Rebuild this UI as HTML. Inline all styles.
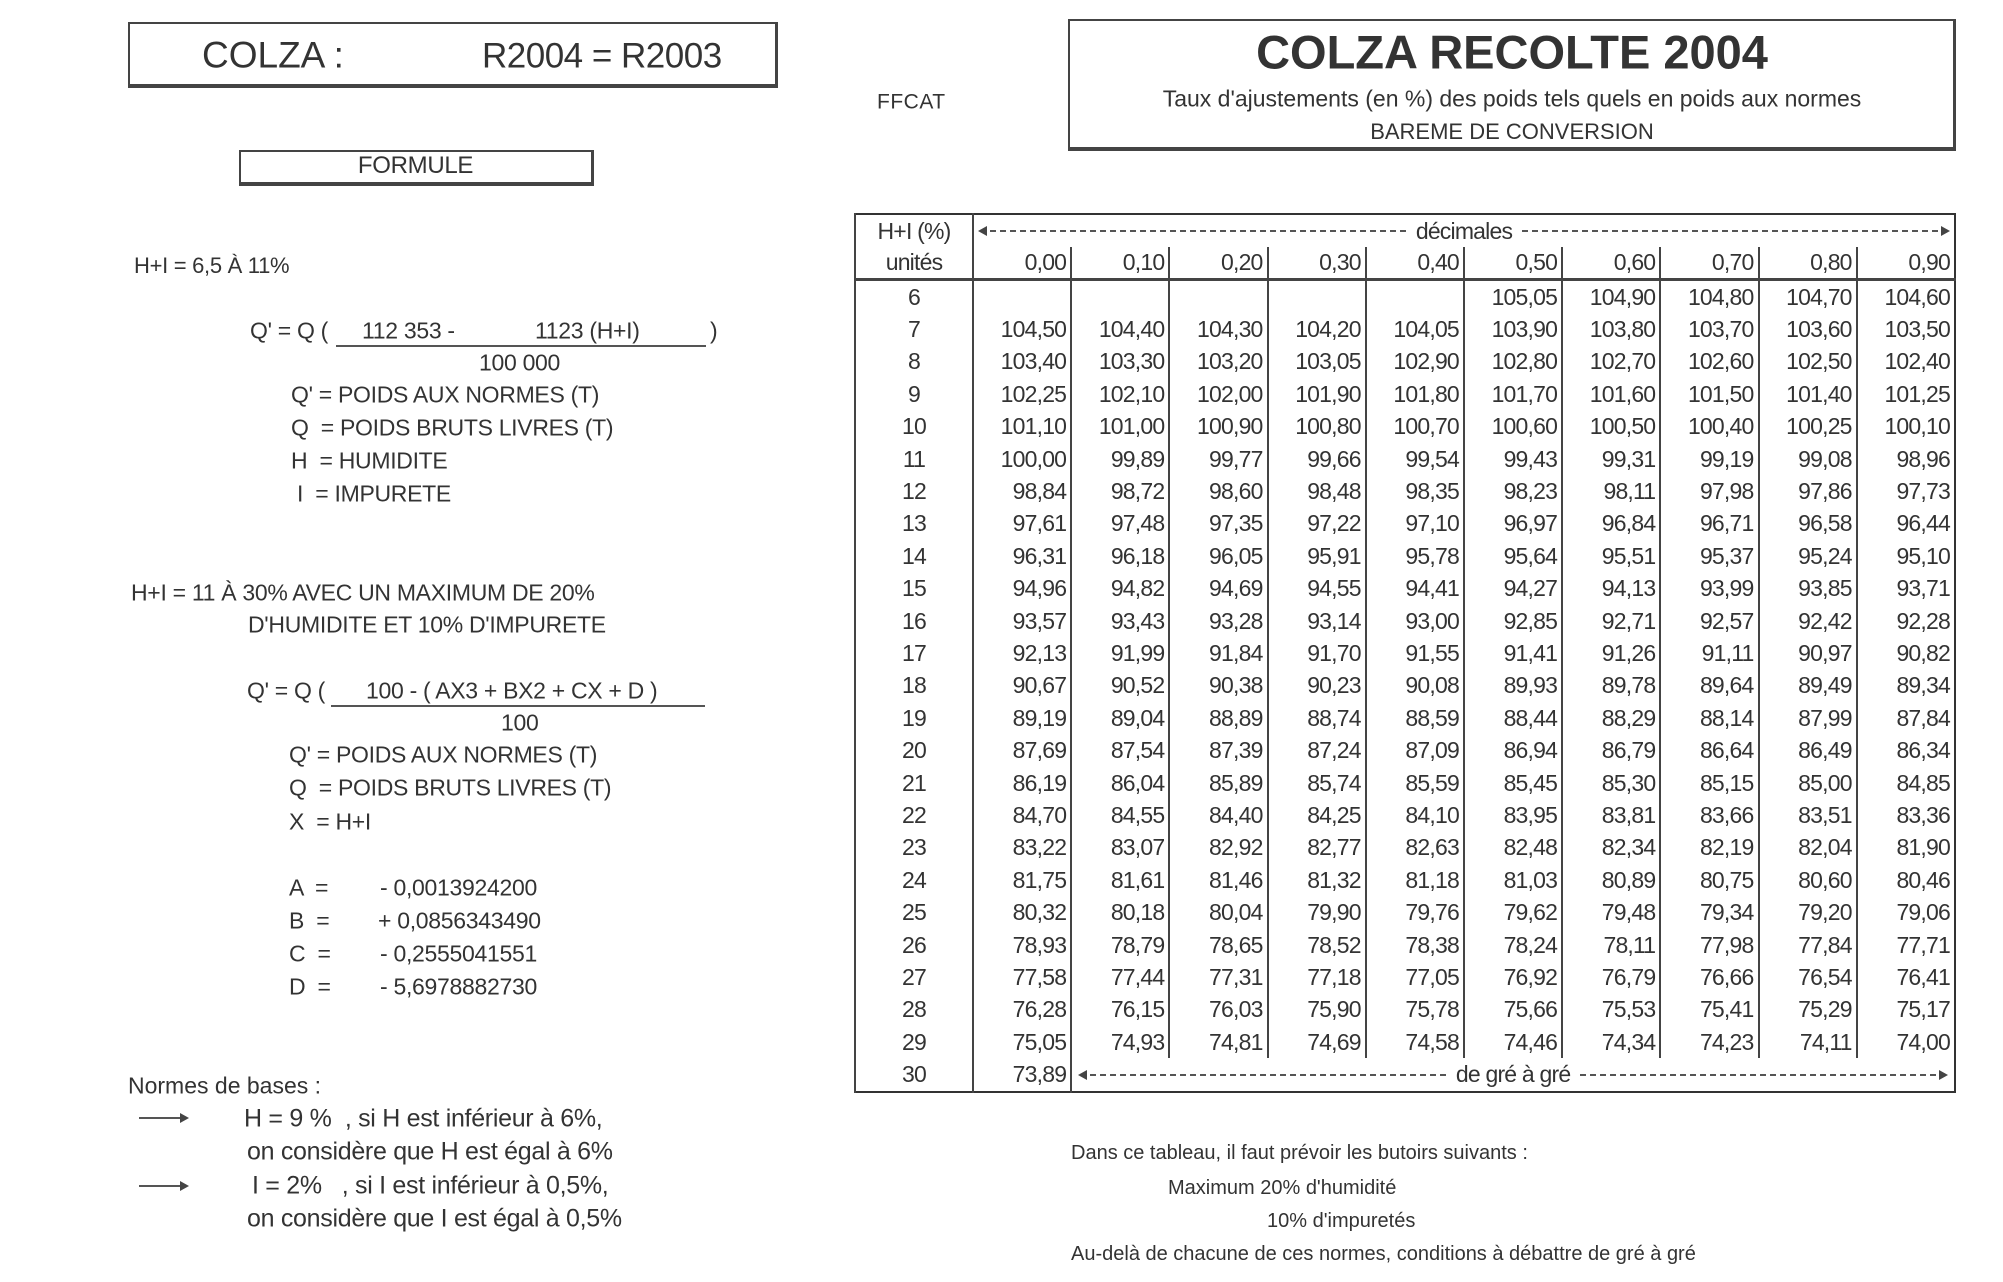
<!DOCTYPE html>
<html><head><meta charset="utf-8">
<style>
html,body{margin:0;padding:0;background:#fff;}
body{width:2003px;height:1282px;position:relative;overflow:hidden;font-family:"Liberation Sans",sans-serif;color:#333;}
.t{position:absolute;white-space:nowrap;font-size:23px;line-height:1;letter-spacing:-0.3px;transform:translateY(-50%);}
.box{position:absolute;border:2px solid #444;border-right-width:3px;border-bottom-width:4px;}
table{position:absolute;left:854px;top:213px;width:1102px;border-collapse:collapse;table-layout:fixed;border:2px solid #333;}
td{font-size:23px;letter-spacing:-0.8px;height:32.4px;padding:0 4px 0 0;text-align:right;border-left:2px solid #444;line-height:1;color:#333;}
td:first-child{text-align:center;padding:0;}
tr.h1 td{height:32px;}
tr.h2 td{border-bottom:3px solid #444;height:31px;}
tr.h1 td.dec{text-align:center;padding:0 6px;}
.dash{display:flex;align-items:center;gap:10px;}
.dash .l{flex:1;border-top:2px dashed #555;height:0;position:relative;}
.dash .l.a:before{content:"";position:absolute;left:-2px;top:-6px;border:5px solid transparent;border-right:9px solid #444;border-left:0;}
.dash .l.b:after{content:"";position:absolute;right:-2px;top:-6px;border:5px solid transparent;border-left:9px solid #444;border-right:0;}
.arrow{position:absolute;height:0;border-top:2px solid #555;width:48px;}
.arrow:after{content:"";position:absolute;right:-2px;top:-6px;border:5px solid transparent;border-left:9px solid #444;border-right:0;}
</style></head><body>

<div class="box" style="left:128px;top:22px;width:645px;height:60px;"></div>
<div class="t" style="left:202px;top:55px;font-size:37px;letter-spacing:0;">COLZA :</div>
<div class="t" style="left:482px;top:56px;font-size:35px;letter-spacing:-0.5px;">R2004 = R2003</div>

<div class="t" style="left:877px;top:102px;font-size:21px;letter-spacing:0.5px;">FFCAT</div>

<div class="box" style="left:1068px;top:19px;width:883px;height:126px;"></div>
<div class="t" style="left:1068px;width:888px;text-align:center;top:52px;font-size:47px;font-weight:bold;letter-spacing:0;">COLZA RECOLTE 2004</div>
<div class="t" style="left:1068px;width:888px;text-align:center;top:99px;font-size:23px;letter-spacing:0;">Taux d'ajustements (en %) des poids tels quels en poids aux normes</div>
<div class="t" style="left:1068px;width:888px;text-align:center;top:132px;font-size:22px;letter-spacing:0;">BAREME DE CONVERSION</div>

<div class="box" style="left:239px;top:150px;width:350px;height:30px;"></div>
<div class="t" style="left:239px;width:353px;text-align:center;top:166px;font-size:24px;">FORMULE</div>

<div class="t" style="left:134px;top:266px;font-size:22px;">H+I = 6,5 À 11%</div>
<div class="t" style="left:250px;top:331px;">Q' = Q (</div>
<div class="t" style="left:362px;top:331px;">112 353 -</div>
<div class="t" style="left:535px;top:331px;">1123 (H+I)</div>
<div class="t" style="left:710px;top:331px;">)</div>
<div style="position:absolute;left:336px;top:345px;width:370px;border-top:2px solid #555;"></div>
<div class="t" style="left:479px;top:363px;">100 000</div>
<div class="t" style="left:291px;top:395px;">Q' = POIDS AUX NORMES (T)</div>
<div class="t" style="left:291px;top:428px;">Q &nbsp;= POIDS BRUTS LIVRES (T)</div>
<div class="t" style="left:291px;top:461px;">H &nbsp;= HUMIDITE</div>
<div class="t" style="left:297px;top:494px;">I &nbsp;= IMPURETE</div>

<div class="t" style="left:131px;top:593px;">H+I = 11 À 30% AVEC UN MAXIMUM DE 20%</div>
<div class="t" style="left:248px;top:625px;">D'HUMIDITE ET 10% D'IMPURETE</div>

<div class="t" style="left:247px;top:691px;">Q' = Q (</div>
<div class="t" style="left:366px;top:691px;">100 - ( AX3 + BX2 + CX + D )</div>
<div style="position:absolute;left:331px;top:705px;width:374px;border-top:2px solid #555;"></div>
<div class="t" style="left:501px;top:723px;">100</div>
<div class="t" style="left:289px;top:755px;">Q' = POIDS AUX NORMES (T)</div>
<div class="t" style="left:289px;top:788px;">Q &nbsp;= POIDS BRUTS LIVRES (T)</div>
<div class="t" style="left:289px;top:822px;">X &nbsp;= H+I</div>
<div class="t" style="left:289px;top:888px;">A &nbsp;=</div>
<div class="t" style="left:380px;top:888px;">- 0,0013924200</div>
<div class="t" style="left:289px;top:921px;">B &nbsp;=</div>
<div class="t" style="left:378px;top:921px;">+ 0,0856343490</div>
<div class="t" style="left:289px;top:954px;">C &nbsp;=</div>
<div class="t" style="left:380px;top:954px;">- 0,2555041551</div>
<div class="t" style="left:289px;top:987px;">D &nbsp;=</div>
<div class="t" style="left:380px;top:987px;">- 5,6978882730</div>

<div class="t" style="left:128px;top:1086px;font-size:23px;letter-spacing:0;">Normes de bases :</div>
<div class="arrow" style="left:139px;top:1117px;"></div>
<div class="t" style="left:244px;top:1119px;font-size:25px;">H = 9 % &nbsp;, si H est inférieur à 6%,</div>
<div class="t" style="left:247px;top:1152px;font-size:25px;">on considère que H est égal à 6%</div>
<div class="arrow" style="left:139px;top:1185px;"></div>
<div class="t" style="left:252px;top:1186px;font-size:25px;">I = 2% &nbsp;&nbsp;, si I est inférieur à 0,5%,</div>
<div class="t" style="left:247px;top:1219px;font-size:25px;">on considère que I est égal à 0,5%</div>

<div class="t" style="left:1071px;top:1153px;font-size:20px;letter-spacing:0;">Dans ce tableau, il faut prévoir les butoirs suivants :</div>
<div class="t" style="left:1168px;top:1188px;font-size:20px;letter-spacing:0;">Maximum 20% d'humidité</div>
<div class="t" style="left:1267px;top:1221px;font-size:20px;letter-spacing:0;">10% d'impuretés</div>
<div class="t" style="left:1071px;top:1254px;font-size:20px;letter-spacing:0;">Au-delà de chacune de ces normes, conditions à débattre de gré à gré</div>

<table>
<colgroup><col style="width:118px"><col span="10"></colgroup>
<tr class="h1"><td>H+I (%)</td><td colspan="10" class="dec"><div class="dash"><span class="l a"></span><span>décimales</span><span class="l b"></span></div></td></tr>
<tr class="h2"><td>unités</td><td>0,00</td><td>0,10</td><td>0,20</td><td>0,30</td><td>0,40</td><td>0,50</td><td>0,60</td><td>0,70</td><td>0,80</td><td>0,90</td></tr>
<tr><td>6</td><td></td><td></td><td></td><td></td><td></td><td>105,05</td><td>104,90</td><td>104,80</td><td>104,70</td><td>104,60</td></tr>
<tr><td>7</td><td>104,50</td><td>104,40</td><td>104,30</td><td>104,20</td><td>104,05</td><td>103,90</td><td>103,80</td><td>103,70</td><td>103,60</td><td>103,50</td></tr>
<tr><td>8</td><td>103,40</td><td>103,30</td><td>103,20</td><td>103,05</td><td>102,90</td><td>102,80</td><td>102,70</td><td>102,60</td><td>102,50</td><td>102,40</td></tr>
<tr><td>9</td><td>102,25</td><td>102,10</td><td>102,00</td><td>101,90</td><td>101,80</td><td>101,70</td><td>101,60</td><td>101,50</td><td>101,40</td><td>101,25</td></tr>
<tr><td>10</td><td>101,10</td><td>101,00</td><td>100,90</td><td>100,80</td><td>100,70</td><td>100,60</td><td>100,50</td><td>100,40</td><td>100,25</td><td>100,10</td></tr>
<tr><td>11</td><td>100,00</td><td>99,89</td><td>99,77</td><td>99,66</td><td>99,54</td><td>99,43</td><td>99,31</td><td>99,19</td><td>99,08</td><td>98,96</td></tr>
<tr><td>12</td><td>98,84</td><td>98,72</td><td>98,60</td><td>98,48</td><td>98,35</td><td>98,23</td><td>98,11</td><td>97,98</td><td>97,86</td><td>97,73</td></tr>
<tr><td>13</td><td>97,61</td><td>97,48</td><td>97,35</td><td>97,22</td><td>97,10</td><td>96,97</td><td>96,84</td><td>96,71</td><td>96,58</td><td>96,44</td></tr>
<tr><td>14</td><td>96,31</td><td>96,18</td><td>96,05</td><td>95,91</td><td>95,78</td><td>95,64</td><td>95,51</td><td>95,37</td><td>95,24</td><td>95,10</td></tr>
<tr><td>15</td><td>94,96</td><td>94,82</td><td>94,69</td><td>94,55</td><td>94,41</td><td>94,27</td><td>94,13</td><td>93,99</td><td>93,85</td><td>93,71</td></tr>
<tr><td>16</td><td>93,57</td><td>93,43</td><td>93,28</td><td>93,14</td><td>93,00</td><td>92,85</td><td>92,71</td><td>92,57</td><td>92,42</td><td>92,28</td></tr>
<tr><td>17</td><td>92,13</td><td>91,99</td><td>91,84</td><td>91,70</td><td>91,55</td><td>91,41</td><td>91,26</td><td>91,11</td><td>90,97</td><td>90,82</td></tr>
<tr><td>18</td><td>90,67</td><td>90,52</td><td>90,38</td><td>90,23</td><td>90,08</td><td>89,93</td><td>89,78</td><td>89,64</td><td>89,49</td><td>89,34</td></tr>
<tr><td>19</td><td>89,19</td><td>89,04</td><td>88,89</td><td>88,74</td><td>88,59</td><td>88,44</td><td>88,29</td><td>88,14</td><td>87,99</td><td>87,84</td></tr>
<tr><td>20</td><td>87,69</td><td>87,54</td><td>87,39</td><td>87,24</td><td>87,09</td><td>86,94</td><td>86,79</td><td>86,64</td><td>86,49</td><td>86,34</td></tr>
<tr><td>21</td><td>86,19</td><td>86,04</td><td>85,89</td><td>85,74</td><td>85,59</td><td>85,45</td><td>85,30</td><td>85,15</td><td>85,00</td><td>84,85</td></tr>
<tr><td>22</td><td>84,70</td><td>84,55</td><td>84,40</td><td>84,25</td><td>84,10</td><td>83,95</td><td>83,81</td><td>83,66</td><td>83,51</td><td>83,36</td></tr>
<tr><td>23</td><td>83,22</td><td>83,07</td><td>82,92</td><td>82,77</td><td>82,63</td><td>82,48</td><td>82,34</td><td>82,19</td><td>82,04</td><td>81,90</td></tr>
<tr><td>24</td><td>81,75</td><td>81,61</td><td>81,46</td><td>81,32</td><td>81,18</td><td>81,03</td><td>80,89</td><td>80,75</td><td>80,60</td><td>80,46</td></tr>
<tr><td>25</td><td>80,32</td><td>80,18</td><td>80,04</td><td>79,90</td><td>79,76</td><td>79,62</td><td>79,48</td><td>79,34</td><td>79,20</td><td>79,06</td></tr>
<tr><td>26</td><td>78,93</td><td>78,79</td><td>78,65</td><td>78,52</td><td>78,38</td><td>78,24</td><td>78,11</td><td>77,98</td><td>77,84</td><td>77,71</td></tr>
<tr><td>27</td><td>77,58</td><td>77,44</td><td>77,31</td><td>77,18</td><td>77,05</td><td>76,92</td><td>76,79</td><td>76,66</td><td>76,54</td><td>76,41</td></tr>
<tr><td>28</td><td>76,28</td><td>76,15</td><td>76,03</td><td>75,90</td><td>75,78</td><td>75,66</td><td>75,53</td><td>75,41</td><td>75,29</td><td>75,17</td></tr>
<tr><td>29</td><td>75,05</td><td>74,93</td><td>74,81</td><td>74,69</td><td>74,58</td><td>74,46</td><td>74,34</td><td>74,23</td><td>74,11</td><td>74,00</td></tr>
<tr><td>30</td><td>73,89</td><td colspan="9" style="text-align:center;padding:0 8px;"><div class="dash"><span class="l a"></span><span>de gré à gré</span><span class="l b"></span></div></td></tr>
</table>
</body></html>
